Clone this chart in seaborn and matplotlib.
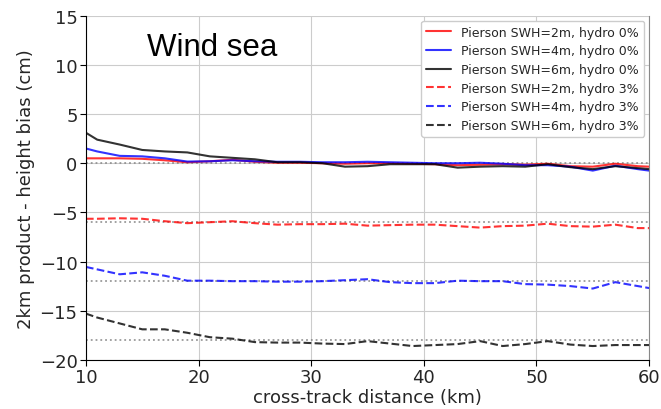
import numpy as np
import pandas as pd
import seaborn as sns
from matplotlib import pyplot as plt

# cross-track distance (km)
dist = [10, 11, 13, 15, 17, 19, 21, 23, 25, 27, 29, 31, 33, 35, 37, 39, 41, 43, 45, 47, 49, 51, 53, 55, 57, 59, 60]

# height bias (cm), hydro 0%
swh2_h0 = [0.5, 0.5, 0.5, 0.45, 0.3, 0.1, 0.2, 0.35, 0.15, 0.05, 0.05, 0.0, -0.05, 0.0, 0.0, -0.05,
           -0.1, -0.2, -0.15, -0.1, -0.15, -0.05, -0.3, -0.35, -0.05, -0.3, -0.35]
swh4_h0 = [1.5, 1.2, 0.75, 0.7, 0.5, 0.17, 0.2, 0.3, 0.2, 0.15, 0.15, 0.1, 0.1, 0.15, 0.1, 0.05,
           0.0, 0.0, 0.05, -0.05, -0.2, -0.2, -0.35, -0.75, -0.25, -0.6, -0.75]
swh6_h0 = [3.1, 2.4, 1.9, 1.35, 1.2, 1.1, 0.7, 0.55, 0.4, 0.1, 0.1, 0.0, -0.35, -0.3, -0.1, -0.1,
           -0.1, -0.45, -0.35, -0.3, -0.35, -0.1, -0.4, -0.6, -0.3, -0.5, -0.6]

# height bias (cm), hydro 3%
swh2_h3 = [-5.65, -5.65, -5.6, -5.65, -5.9, -6.1, -6.0, -5.9, -6.1, -6.25, -6.2, -6.2, -6.15, -6.35,
           -6.3, -6.25, -6.25, -6.4, -6.55, -6.4, -6.35, -6.15, -6.4, -6.45, -6.25, -6.6, -6.6]
swh4_h3 = [-10.55, -10.8, -11.3, -11.1, -11.45, -11.95, -11.95, -12.0, -12.0, -12.05, -12.05, -12.0,
           -11.9, -11.8, -12.1, -12.2, -12.2, -11.95, -12.0, -12.0, -12.3, -12.35, -12.5, -12.75,
           -12.1, -12.5, -12.7]
swh6_h3 = [-15.3, -15.7, -16.3, -16.9, -16.9, -17.25, -17.7, -17.85, -18.2, -18.25, -18.25, -18.35,
           -18.4, -18.1, -18.35, -18.6, -18.5, -18.4, -18.1, -18.6, -18.4, -18.1, -18.45, -18.6,
           -18.5, -18.5, -18.5]

# expected bias levels (dotted)
ref_levels = [0, -6, -12, -18]

series = [
    ('Pierson SWH=2m, hydro 0%', swh2_h0, 'red', '-'),
    ('Pierson SWH=4m, hydro 0%', swh4_h0, 'blue', '-'),
    ('Pierson SWH=6m, hydro 0%', swh6_h0, 'black', '-'),
    ('Pierson SWH=2m, hydro 3%', swh2_h3, 'red', '--'),
    ('Pierson SWH=4m, hydro 3%', swh4_h3, 'blue', '--'),
    ('Pierson SWH=6m, hydro 3%', swh6_h3, 'black', '--'),
]

sns.set_style('whitegrid', {'grid.color': '#cccccc'})

fig, ax = plt.subplots(figsize=(6.61, 4.10), dpi=100)
fig.subplots_adjust(left=0.130, right=0.982, top=0.959, bottom=0.120)

for lvl in ref_levels:
    ax.plot([dist[0], dist[-1]], [lvl, lvl], ls=':', color='gray', lw=1.3, alpha=0.8)

for label, vals, col, ls in series:
    df = pd.DataFrame({'dist': dist, 'bias': vals})
    sns.lineplot(data=df, x='dist', y='bias', color=col, linestyle=ls, lw=1.5, alpha=0.8,
                 label=label, ax=ax)

ax.set_xlim(10, 60)
ax.set_ylim(-20, 15)
ax.set_xticks([10, 20, 30, 40, 50, 60])
ax.set_yticks([-20, -15, -10, -5, 0, 5, 10, 15])
ax.tick_params(labelsize=13, length=4, color='black', left=True, bottom=True, pad=2)
ax.set_xlabel('cross-track distance (km)', fontsize=13, labelpad=1)
ax.set_ylabel('2km product - height bias (cm)', fontsize=13, labelpad=3)

for side in ['left', 'bottom']:
    ax.spines[side].set_color('black')
ax.spines['top'].set_visible(False)
ax.spines['right'].set_color('#888888')

ax.text(0.108, 0.887, 'Wind sea', transform=ax.transAxes, fontsize=22.5, color='black',
        family='Liberation Sans', ha='left', va='baseline')

ax.legend(loc='upper right', fontsize=9, frameon=True, edgecolor='#cccccc', framealpha=1,
          borderaxespad=0.4, labelspacing=0.45)

fig.savefig('out.png', dpi=100)
